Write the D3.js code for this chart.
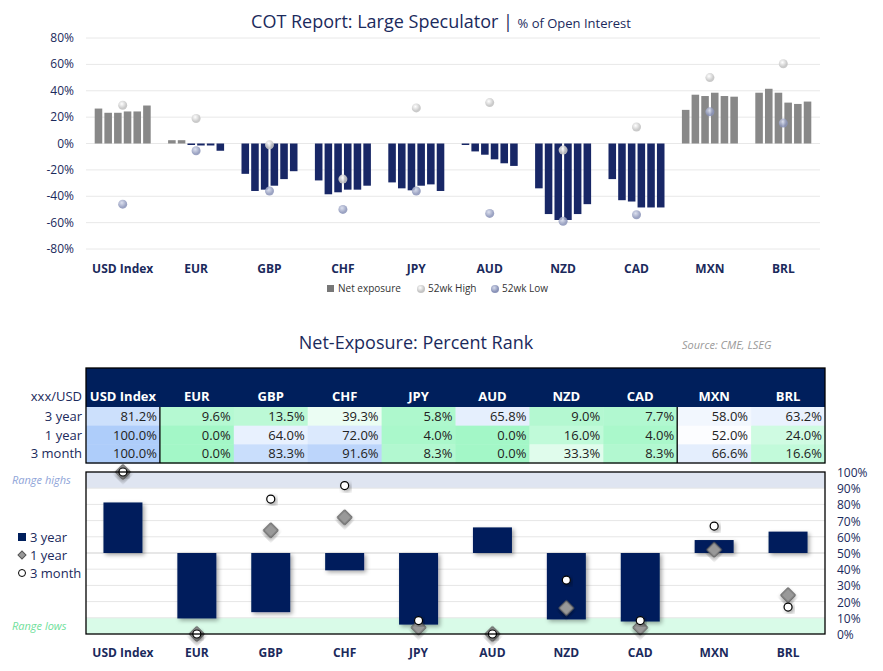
<!DOCTYPE html>
<html><head><meta charset="utf-8">
<script src="https://cdn.jsdelivr.net/npm/d3@7.9.0/dist/d3.min.js"></script>
<style>body{margin:0;background:#fff;font-family:"Open Sans",sans-serif}</style>
</head><body><svg id="c" width="883" height="671"></svg>
<script>
const currencies = ['USD Index','EUR','GBP','CHF','JPY','AUD','NZD','CAD','MXN','BRL'];
// net exposure, last 6 weeks (% of OI)
const netExposure = [
  [26.5,23.3,23.3,24.3,24.3,28.8],
  [2.5,2.5,-0.5,-1.5,-1.5,-5.5],
  [-23,-36,-35,-32,-27,-21],
  [-28,-38.5,-37,-35,-35,-32],
  [-29.5,-34,-35.5,-32,-31,-36],
  [-1,-6,-8.5,-12,-15,-17],
  [-34,-53.5,-58,-58,-53.5,-46],
  [-27,-43,-44,-48.5,-48.5,-48.5],
  [25.5,37,36,38.5,36,35.5],
  [38.5,41.5,38.5,31,30,31.8]
];
const high52 = [29,19,-1,-27,27,31,-5,12.5,50,60.5];
const low52 = [-46,-5.5,-36,-50,-36,-53,-59,-54,24,15.5];
const yTicks = [80,60,40,20,0,-20,-40,-60,-80];
// percent rank
const rank3y = [81.2,9.6,13.5,39.3,5.8,65.8,9.0,7.7,58.0,63.2];
const rank1y = [100.0,0.0,64.0,72.0,4.0,0.0,16.0,4.0,52.0,24.0];
const rank3m = [100.0,0.0,83.3,91.6,8.3,0.0,33.3,8.3,66.6,16.6];
const rankTicks = [0,10,20,30,40,50,60,70,80,90,100];

const svg = d3.select('#c');
const navy = '#182766', dark = '#001f5c';
const defs = svg.append('defs');
const f = defs.append('filter').attr('id','sh').attr('x','-20%').attr('y','-20%').attr('width','150%').attr('height','150%');
f.append('feDropShadow').attr('dx',2).attr('dy',2).attr('stdDeviation',2).attr('flood-color','#000').attr('flood-opacity',0.35);
const gh = defs.append('radialGradient').attr('id','gh').attr('cx','40%').attr('cy','35%');
gh.append('stop').attr('offset','0%').attr('stop-color','#fff');
gh.append('stop').attr('offset','100%').attr('stop-color','#c4c4c4');
const gl = defs.append('radialGradient').attr('id','gl').attr('cx','40%').attr('cy','35%');
gl.append('stop').attr('offset','0%').attr('stop-color','#d6dbec');
gl.append('stop').attr('offset','100%').attr('stop-color','#8a93b8');

// ---------- top chart
const x = d3.scaleBand().domain(currencies).range([86,820]);
const y = d3.scaleLinear().domain([-80,80]).range([249,38]);
const t = svg.append('text').attr('x',441).attr('y',28).attr('text-anchor','middle').attr('fill','#1b2a5c');
t.append('tspan').attr('font-size',18).text('COT Report: Large Speculator | ');
t.append('tspan').attr('font-size',13).text('% of Open Interest');

svg.append('g').selectAll('line').data(yTicks).join('line')
  .attr('x1',86).attr('x2',820).attr('y1',d=>y(d)).attr('y2',d=>y(d)).attr('stroke','#e8e8e8');
svg.append('g').selectAll('text').data(yTicks).join('text')
  .attr('x',74).attr('y',d=>y(d)+4).attr('text-anchor','end').attr('font-size',12).attr('fill','#1b2a5c')
  .text(d=>d+'%');

const xi = d3.scaleBand().domain(d3.range(6)).range([0,56]).paddingInner(0.22);
currencies.forEach((c,i)=>{
  const g = svg.append('g').attr('transform',`translate(${x(c)+x.bandwidth()/2-28},0)`);
  g.selectAll('rect').data(netExposure[i]).join('rect')
    .attr('x',(d,j)=>xi(j)).attr('width',xi.bandwidth())
    .attr('y',d=>y(Math.max(0,d))).attr('height',d=>Math.max(1.5,Math.abs(y(d)-y(0))))
    .attr('fill',d=>d>=0?'#888':navy);
  const cx = x(c)+x.bandwidth()/2;
  svg.append('circle').attr('cx',cx).attr('cy',y(high52[i])).attr('r',4.5).attr('fill','url(#gh)').attr('opacity',0.9);
  svg.append('circle').attr('cx',cx).attr('cy',y(low52[i])).attr('r',4.5).attr('fill','url(#gl)').attr('opacity',0.85);
});
svg.append('g').selectAll('text').data(currencies).join('text')
  .attr('x',d=>x(d)+x.bandwidth()/2).attr('y',273).attr('text-anchor','middle')
  .attr('font-size',12).attr('font-weight','bold').attr('fill','#1b2a5c').text(d=>d);
// legend
const lg = svg.append('g').attr('font-size',10).attr('fill','#333');
lg.append('rect').attr('x',327).attr('y',285).attr('width',7).attr('height',7).attr('fill','#777');
lg.append('text').attr('x',338).attr('y',292).text('Net exposure');
lg.append('circle').attr('cx',421).attr('cy',289).attr('r',4).attr('fill','url(#gh)');
lg.append('text').attr('x',428).attr('y',292).text('52wk High');
lg.append('circle').attr('cx',495).attr('cy',289).attr('r',4).attr('fill','url(#gl)');
lg.append('text').attr('x',502).attr('y',292).text('52wk Low');

// ---------- table
svg.append('text').attr('x',416).attr('y',349).attr('text-anchor','middle').attr('font-size',18).attr('fill','#1b2a5c').text('Net-Exposure: Percent Rank');
svg.append('text').attr('x',682).attr('y',349).attr('font-size',11).attr('font-style','italic').attr('fill','#999').text('Source: CME, LSEG');
const tx = d3.scaleBand().domain(currencies).range([86,825]);
const heat = d3.scaleLinear().domain([0,50,100]).range(['#a3f7c7','#ffffff','#aecdfa']);
svg.append('rect').attr('x',86).attr('y',368).attr('width',739).attr('height',39).attr('fill',dark);
svg.selectAll('.hd').data(currencies).join('text')
  .attr('x',d=>tx(d)+tx.bandwidth()/2).attr('y',401).attr('text-anchor','middle')
  .attr('font-size',13).attr('font-weight','bold').attr('fill','#fff').text(d=>d);
svg.append('text').attr('x',82).attr('y',401).attr('text-anchor','end').attr('font-size',13).attr('fill','#1b2a5c').text('xxx/USD');
const rows = [['3 year',rank3y],['1 year',rank1y],['3 month',rank3m]];
const ry = d3.scaleBand().domain(d3.range(3)).range([407,463]);
rows.forEach(([lab,vals],r)=>{
  svg.append('text').attr('x',82).attr('y',ry(r)+14).attr('text-anchor','end').attr('font-size',13).attr('fill','#1b2a5c').text(lab);
  currencies.forEach((c,i)=>{
    svg.append('rect').attr('x',tx(c)).attr('y',ry(r)).attr('width',tx.bandwidth()+0.5).attr('height',ry.bandwidth()+0.5).attr('fill',heat(vals[i]));
    svg.append('text').attr('x',tx(c)+tx.bandwidth()-3).attr('y',ry(r)+14).attr('text-anchor','end')
      .attr('font-size',13).attr('fill','#222').text(vals[i].toFixed(1)+'%');
  });
});
svg.append('rect').attr('x',86).attr('y',368).attr('width',739).attr('height',95).attr('fill','none').attr('stroke','#000').attr('stroke-width',1.3);
[tx('EUR'),tx('MXN')].forEach(v=>svg.append('line').attr('x1',v).attr('x2',v).attr('y1',407).attr('y2',463).attr('stroke','#000').attr('stroke-width',1.3));

// ---------- rank chart
const ry2 = d3.scaleLinear().domain([0,100]).range([634,472]);
svg.append('rect').attr('x',86).attr('y',ry2(100)).attr('width',739).attr('height',ry2(90)-ry2(100)).attr('fill','#dfe5f1');
svg.append('rect').attr('x',86).attr('y',ry2(10)).attr('width',739).attr('height',ry2(0)-ry2(10)).attr('fill','#d9fbe8');
svg.append('g').selectAll('line').data(rankTicks.slice(1,-1)).join('line')
  .attr('x1',86).attr('x2',825).attr('y1',d=>ry2(d)).attr('y2',d=>ry2(d))
  .attr('stroke',d=>d===50?'#cfcfcf':'#e6e6e6');
svg.append('g').selectAll('text').data(rankTicks).join('text')
  .attr('x',837).attr('y',d=>ry2(d)+5).attr('font-size',12).attr('fill','#1b2a5c').text(d=>d+'%');
const bw = 39;
const cxs = c=>tx(c)+tx.bandwidth()/2;
svg.append('g').selectAll('rect').data(currencies).join('rect')
  .attr('x',c=>cxs(c)-bw/2).attr('width',bw)
  .attr('y',(c,i)=>ry2(Math.max(50,rank3y[i]))).attr('height',(c,i)=>Math.abs(ry2(rank3y[i])-ry2(50)))
  .attr('fill',dark).attr('filter','url(#sh)');
const dia = d3.symbol().type(d3.symbolSquare).size(110);
svg.append('g').selectAll('path').data(currencies).join('path')
  .attr('d',dia).attr('transform',(c,i)=>`translate(${cxs(c)},${ry2(rank1y[i])}) rotate(45)`)
  .attr('fill','#999').attr('stroke','#555').attr('stroke-width',1).attr('filter','url(#sh)');
svg.append('g').selectAll('circle').data(currencies).join('circle')
  .attr('cx',cxs).attr('cy',(c,i)=>ry2(rank3m[i])).attr('r',4)
  .attr('fill','#fff').attr('stroke','#000').attr('stroke-width',1.2).attr('filter','url(#sh)');
svg.append('rect').attr('x',86).attr('y',472).attr('width',739).attr('height',162).attr('fill','none').attr('stroke','#000').attr('stroke-width',1.3);
svg.append('g').selectAll('text').data(currencies).join('text')
  .attr('x',cxs).attr('y',657).attr('text-anchor','middle').attr('font-size',12).attr('font-weight','bold').attr('fill','#1b2a5c').text(d=>d);
svg.append('text').attr('x',12).attr('y',484).attr('font-size',11).attr('font-style','italic').attr('fill','#8ea4d8').text('Range highs');
svg.append('text').attr('x',12).attr('y',630).attr('font-size',11).attr('font-style','italic').attr('fill','#6fe09a').text('Range lows');
const ll = svg.append('g').attr('font-size',13).attr('fill','#1b2a5c');
ll.append('rect').attr('x',18).attr('y',533).attr('width',8).attr('height',8).attr('fill',dark);
ll.append('text').attr('x',30).attr('y',542).text('3 year');
ll.append('path').attr('d',d3.symbol().type(d3.symbolSquare).size(32)).attr('transform','translate(22,555) rotate(45)').attr('fill','#999').attr('stroke','#555');
ll.append('text').attr('x',30).attr('y',560).text('1 year');
ll.append('circle').attr('cx',22).attr('cy',573).attr('r',3.5).attr('fill','#fff').attr('stroke','#000');
ll.append('text').attr('x',30).attr('y',578).text('3 month');
</script></body></html>
